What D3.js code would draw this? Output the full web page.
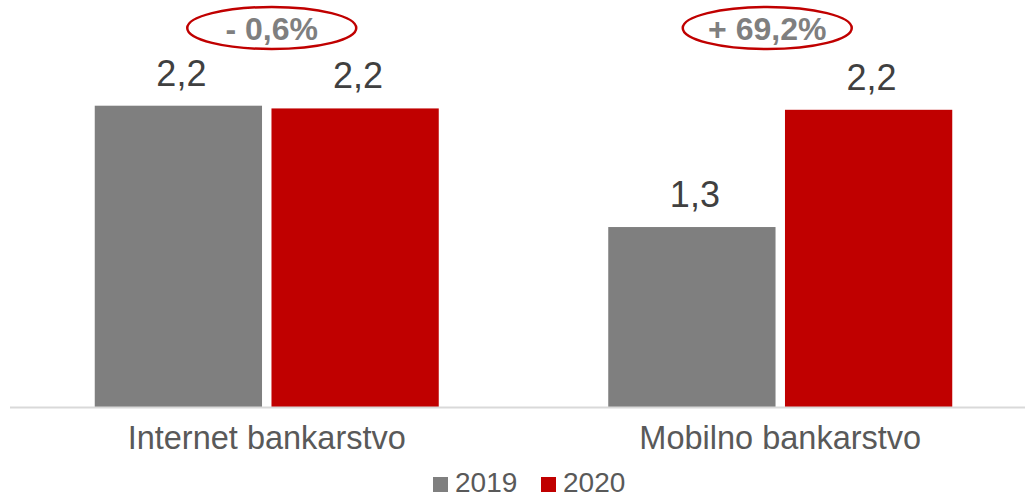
<!DOCTYPE html>
<html>
<head>
<meta charset="utf-8">
<script src="https://cdn.jsdelivr.net/npm/d3@7"></script>
<style>
  html, body { margin: 0; padding: 0; background: #fff; }
  svg { display: block; font-family: "Liberation Sans", Arial, sans-serif; }
</style>
</head>
<body>
<svg id="chart" width="1025" height="498"></svg>
<script>
// Channel usage, millions (2019 vs 2020)
const categories = ["Internet bankarstvo", "Mobilno bankarstvo"];
const seriesNames = ["2019", "2020"];
const values2019 = [2.21, 1.32];
const values2020 = [2.19, 2.18];
const changeLabels = ["- 0,6%", "+ 69,2%"];

const colors = { "2019": "#7f7f7f", "2020": "#c00000" };
const seriesValues = { "2019": values2019, "2020": values2020 };

const svg = d3.select("#chart");
const baseline = 407;

const x0 = d3.scaleBand()
  .domain(categories)
  .range([10, 1037])
  .paddingInner(0)
  .paddingOuter(0);

const groupWidth = 344;
const x1 = d3.scaleBand()
  .domain(seriesNames)
  .range([0, groupWidth])
  .paddingInner(0.0535)
  .paddingOuter(0);

const y = d3.scaleLinear()
  .domain([0, 3])
  .range([baseline, -2]);

const fmt = v => d3.format(".1f")(v).replace(".", ",");

const groups = svg.selectAll("g.cat")
  .data(categories)
  .join("g")
  .attr("class", "cat")
  .attr("transform", d => `translate(${x0(d) + (x0.bandwidth() - groupWidth) / 2},0)`);

// bars
groups.selectAll("rect")
  .data((c, i) => seriesNames.map(s => ({ s, v: seriesValues[s][i] })))
  .join("rect")
  .attr("x", d => x1(d.s))
  .attr("y", d => y(d.v))
  .attr("width", x1.bandwidth())
  .attr("height", d => y(0) - y(d.v))
  .attr("fill", d => colors[d.s]);

// value labels
groups.selectAll("text.val")
  .data((c, i) => seriesNames.map(s => ({ s, v: seriesValues[s][i] })))
  .join("text")
  .attr("class", "val")
  .attr("x", d => x1(d.s) + x1.bandwidth() / 2 + 3)
  .attr("y", d => y(d.v) - 20)
  .attr("text-anchor", "middle")
  .attr("font-size", 36)
  .attr("fill", "#404040")
  .text(d => fmt(d.v));

// baseline axis
const xAxis = d3.axisBottom(x0).tickSize(0).tickPadding(19);
const axisG = svg.append("g")
  .attr("transform", `translate(0,${baseline})`)
  .call(xAxis);
axisG.select(".domain")
  .attr("stroke", "#d9d9d9")
  .attr("stroke-width", 2)
  .attr("d", `M10,0.5H1025`);
axisG.selectAll(".tick text")
  .attr("font-size", 32.5)
  .attr("fill", "#595959")
  .attr("font-family", "'Liberation Sans', Arial, sans-serif")
  .attr("dy", "0.71em");

// change annotations in ellipses, nudged from the group centre
const annOffsets = [5, -13];
const ann = svg.selectAll("g.ann")
  .data(categories)
  .join("g")
  .attr("class", "ann")
  .attr("transform", (d, i) => `translate(${x0(d) + x0.bandwidth() / 2 + annOffsets[i]},28)`);
ann.append("ellipse")
  .attr("rx", 84.5)
  .attr("ry", 21)
  .attr("fill", "none")
  .attr("stroke", "#c00000")
  .attr("stroke-width", 2.5);
ann.append("text")
  .attr("text-anchor", "middle")
  .attr("y", 11.5)
  .attr("font-size", 32)
  .attr("font-weight", "bold")
  .attr("fill", "#7f7f7f")
  .text((d, i) => changeLabels[i]);

// legend
const legendItems = [
  { s: "2019", x: 433 },
  { s: "2020", x: 541 }
];
const leg = svg.selectAll("g.leg")
  .data(legendItems)
  .join("g")
  .attr("class", "leg")
  .attr("transform", d => `translate(${d.x},0)`);
leg.append("rect")
  .attr("y", 477)
  .attr("width", 15)
  .attr("height", 15)
  .attr("fill", d => colors[d.s]);
leg.append("text")
  .attr("x", 22)
  .attr("y", 492)
  .attr("font-size", 28)
  .attr("fill", "#595959")
  .text(d => d.s);
</script>
</body>
</html>
